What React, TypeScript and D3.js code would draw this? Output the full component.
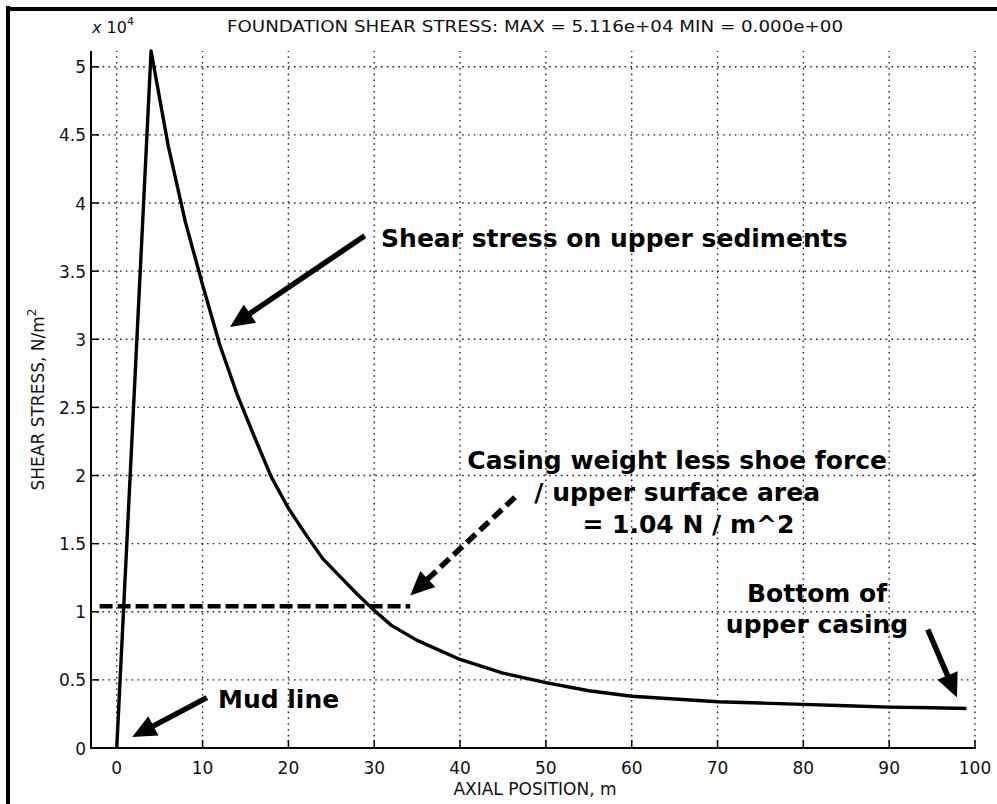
import React from "react";
import * as d3 from "d3";

const W = 997;
const H = 804;

// Curve data (axial position m, shear stress x1e4 N/m^2)
const positions = [0, 4, 6, 8, 10, 12, 14, 16, 18, 20, 22, 24, 26, 28, 30, 32, 35, 40, 45, 50, 55, 60, 65, 70, 75, 80, 85, 90, 95, 99];
const stresses = [0, 5.116, 4.42, 3.86, 3.4, 2.96, 2.6, 2.29, 1.99, 1.76, 1.57, 1.39, 1.26, 1.13, 1.01, 0.9, 0.79, 0.65, 0.55, 0.48, 0.42, 0.38, 0.36, 0.34, 0.33, 0.32, 0.31, 0.3, 0.295, 0.29];

// dashed reference line
const refX = [-2, 34.2];
const refY = [1.04, 1.04];

const xTicks = [0, 10, 20, 30, 40, 50, 60, 70, 80, 90, 100];
const yTicks = [0, 0.5, 1, 1.5, 2, 2.5, 3, 3.5, 4, 4.5, 5];
const yTickLabels = ["0", "0.5", "1", "1.5", "2", "2.5", "3", "3.5", "4", "4.5", "5"];

const titleText = "FOUNDATION SHEAR STRESS: MAX = 5.116e+04 MIN = 0.000e+00";
const xLabel = "AXIAL POSITION, m";

// annotation arrows: tails and tips in data units
const arrowTails = [[28.9, 3.76], [46.4, 1.84], [10.5, 0.37], [94.5, 0.87]];
const arrowTips = [[13.2, 3.09], [34.2, 1.12], [1.8, 0.08], [97.9, 0.37]];
const arrowDashed = [false, true, false, false];

// annotation texts
const noteTexts = [
  "Shear stress on upper sediments",
  "Casing weight less shoe force",
  "/ upper surface area",
  "= 1.04 N / m^2",
  "Mud line",
  "Bottom of",
  "upper casing",
];
const noteX = [30.8, 65.3, 65.3, 66.6, 11.8, 81.6, 81.6];
const noteY = [3.68, 2.05, 1.81, 1.58, 0.29, 1.07, 0.845];
const noteAnchor = ["start", "middle", "middle", "middle", "start", "middle", "middle"];

export default function App() {
  const x = d3.scaleLinear().domain([-3, 100]).range([91, 975]);
  const y = d3.scaleLinear().domain([0, 5.116]).range([748, 51]);
  const left = 91, right = 975, top = 51, bottom = 748;

  const pts: [number, number][] = positions.map((p, i) => [p, stresses[i]]);
  const line = d3.line<[number, number]>().x(d => x(d[0])).y(d => y(d[1]));
  const refPts: [number, number][] = refX.map((v, i) => [v, refY[i]]);

  const sans = "'DejaVu Sans', sans-serif";
  const gridStyle = { stroke: "#222", strokeWidth: 1.4, strokeDasharray: "1.6,4.2" };

  const arrows = arrowTails.map((t, i) => {
    const x0 = x(t[0]), y0 = y(t[1]);
    const x1 = x(arrowTips[i][0]), y1 = y(arrowTips[i][1]);
    const dx = x1 - x0, dy = y1 - y0;
    const len = Math.hypot(dx, dy);
    const ux = dx / len, uy = dy / len;
    const hl = 24, hw = 11;
    const bx = x1 - ux * hl, by = y1 - uy * hl;
    const px = -uy, py = ux;
    const head = `${x1},${y1} ${bx + px * hw},${by + py * hw} ${bx - px * hw},${by - py * hw}`;
    return (
      <g key={i}>
        <line x1={x0} y1={y0} x2={bx + ux * 2} y2={by + uy * 2} stroke="#000" strokeWidth={5.5}
          strokeDasharray={arrowDashed[i] ? "12,6" : undefined} />
        <polygon points={head} fill="#000" />
      </g>
    );
  });

  return (
    <svg width={W} height={H} style={{ position: "absolute", left: 0, top: 0, background: "#fff" }}>
      <rect x={0} y={0} width={W} height={H} fill="#fff" />
      {/* frame */}
      <line x1={8} y1={6} x2={8} y2={H} stroke="#000" strokeWidth={4} />
      <line x1={6} y1={9} x2={W} y2={9} stroke="#000" strokeWidth={4} />

      {/* grid */}
      {xTicks.map(t => (
        <line key={"gx" + t} x1={x(t)} x2={x(t)} y1={bottom} y2={top} style={gridStyle} />
      ))}
      {yTicks.map(t => (
        <line key={"gy" + t} x1={left} x2={right} y1={y(t)} y2={y(t)} style={gridStyle} />
      ))}

      {/* axes */}
      <line x1={left} x2={left} y1={top} y2={bottom + 1} stroke="#000" strokeWidth={2} />
      <line x1={left - 1} x2={right + 1} y1={bottom} y2={bottom} stroke="#000" strokeWidth={2} />
      {xTicks.map(t => (
        <g key={"tx" + t}>
          <line x1={x(t)} x2={x(t)} y1={bottom} y2={bottom - 8} stroke="#000" strokeWidth={1.5} />
          <text x={x(t)} y={774} textAnchor="middle" fontFamily={sans} fontSize={17} fill="#111">{t}</text>
        </g>
      ))}
      {yTicks.map((t, i) => (
        <g key={"ty" + t}>
          <line x1={left} x2={left + 8} y1={y(t)} y2={y(t)} stroke="#000" strokeWidth={1.5} />
          <text x={86} y={y(t) + 6.5} textAnchor="end" fontFamily={sans} fontSize={17} fill="#111">{yTickLabels[i]}</text>
        </g>
      ))}

      {/* exponent label */}
      <text x={92} y={33} fontFamily={sans} fontSize={16} fill="#111">
        <tspan fontStyle="italic">x</tspan> 10<tspan dy={-8} fontSize={11}>4</tspan>
      </text>

      {/* title */}
      <text x={227} y={32} fontFamily={sans} fontSize={15} fill="#111" textLength={616} lengthAdjust="spacingAndGlyphs">{titleText}</text>

      {/* y label */}
      <text transform={`translate(44,${(top + bottom) / 2}) rotate(-90)`} textAnchor="middle" fontFamily={sans} fontSize={17} fill="#111">
        SHEAR STRESS, N/m<tspan dy={-8} fontSize={12}>2</tspan>
      </text>

      {/* x label */}
      <text x={(left + right) / 2 + 2} y={795} textAnchor="middle" fontFamily={sans} fontSize={17} fill="#111">{xLabel}</text>

      {/* dashed ref line */}
      <path d={line(refPts) || ""} fill="none" stroke="#000" strokeWidth={4.5} strokeDasharray="13,5" />

      {/* curve */}
      <path d={line(pts) || ""} fill="none" stroke="#000" strokeWidth={3.4} strokeLinejoin="round" />

      {/* annotations */}
      {arrows}
      {noteTexts.map((s, i) => (
        <text key={"n" + i} x={x(noteX[i])} y={y(noteY[i])} textAnchor={noteAnchor[i] as any}
          fontFamily={sans} fontWeight="bold" fontSize={25} fill="#000">{s}</text>
      ))}
    </svg>
  );
}
